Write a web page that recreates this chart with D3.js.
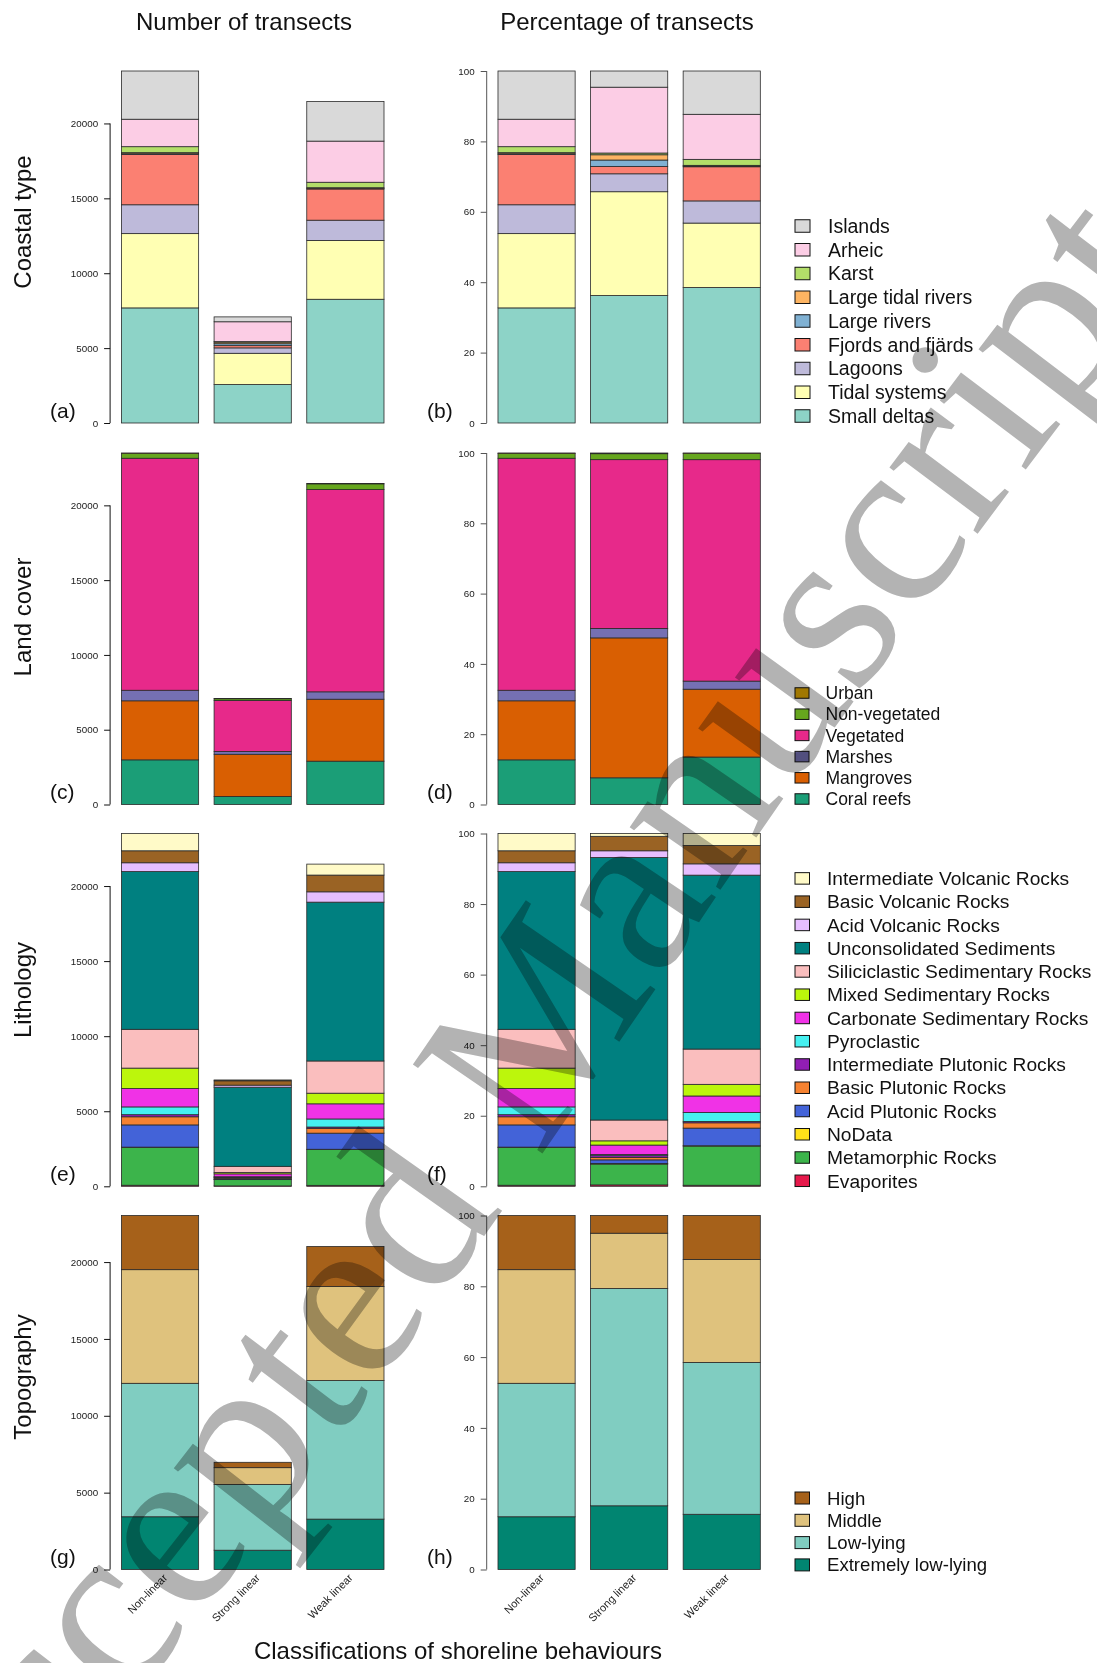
<!DOCTYPE html>
<html>
<head>
<meta charset="utf-8">
<script src="https://cdn.jsdelivr.net/npm/d3@7"></script>
<style>
  body { margin: 0; background: #fff; }
  svg { display: block; font-family: "Liberation Sans", Arial, Helvetica, sans-serif; }
</style>
</head>
<body>
<svg id="fig" width="1097" height="1663"></svg>
<script>
// ---- categories on the x axis ----
const behaviours = ["Non-linear", "Strong linear", "Weak linear"];

// ---- coastal type (stacked bottom to top) ----
const coastalTypes = ["Small deltas", "Tidal systems", "Lagoons", "Fjords and fjärds", "Large rivers",
  "Large tidal rivers", "Karst", "Arheic", "Islands"];
const coastalColors = ["#8dd3c7", "#ffffb3", "#bebada", "#fb8072", "#80b1d3", "#fdb462", "#b3de69", "#fccde5", "#d9d9d9"];
const coastalCounts = [
  [7685, 2565, 8262],
  [4959, 2090, 3927],
  [1927, 361, 1352],
  [3361, 149, 2082],
  [47, 128, 43],
  [70, 106, 43],
  [400, 35, 365],
  [1833, 1325, 2747],
  [3220, 326, 2640]
];

// ---- land cover ----
const landTypes = ["Coral reefs", "Mangroves", "Marshes", "Vegetated", "Non-vegetated", "Urban"];
const landColors = ["#1b9e77", "#d95f02", "#7570b3", "#e7298a", "#66a61e", "#e6ab02"];
const landCounts = [
  [2985, 538, 2897],
  [3948, 2820, 4142],
  [705, 191, 494],
  [15510, 3401, 13520],
  [329, 120, 386],
  [23, 14, 21]
];

// ---- lithology ----
const lithoTypes = ["Evaporites", "Metamorphic Rocks", "NoData", "Acid Plutonic Rocks", "Basic Plutonic Rocks",
  "Intermediate Plutonic Rocks", "Pyroclastic", "Carbonate Sedimentary Rocks", "Mixed Sedimentary Rocks",
  "Siliciclastic Sedimentary Rocks", "Unconsolidated Sediments", "Acid Volcanic Rocks", "Basic Volcanic Rocks",
  "Intermediate Volcanic Rocks"];
const lithoColors = ["#e6194b", "#3cb44b", "#ffe119", "#4363d8", "#f58231", "#911eb4", "#46f0f0", "#f032e6",
  "#bcf60c", "#fabebe", "#008080", "#e6beff", "#9a6324", "#fffac8"];
const lithoCounts = [
  [71, 28, 64],
  [2515, 418, 2382],
  [24, 14, 21],
  [1480, 71, 1073],
  [540, 50, 322],
  [141, 35, 86],
  [517, 21, 537],
  [1222, 191, 1009],
  [1363, 85, 708],
  [2585, 418, 2146],
  [10504, 5271, 10580],
  [588, 135, 687],
  [799, 290, 1116],
  [1151, 57, 730]
];

// ---- topography ----
const topoTypes = ["Extremely low-lying", "Low-lying", "Middle", "High"];
const topoColors = ["#018571", "#80cdc1", "#dfc27d", "#a6611a"];
const topoCounts = [
  [3431, 1255, 3278],
  [8682, 4282, 9015],
  [7393, 1088, 6115],
  [3524, 349, 2606]
];

// ---- axis tick values ----
const countTicks = [0, 5000, 10000, 15000, 20000];
const pctTicks = [0, 20, 40, 60, 80, 100];

// ---- layout ----
const rows = [
  { label: "Coastal type", labelY: 222, top: 71, bottom: 423, tags: ["(a)", "(b)"],
    types: coastalTypes, colors: coastalColors, counts: coastalCounts,
    legend: { y0: 226, step: 23.75, font: 19.5, sw: 15, sh: 12.5, tx: 828 } },
  { label: "Land cover", labelY: 617, top: 453, bottom: 804.5, tags: ["(c)", "(d)"],
    types: landTypes, colors: landColors, counts: landCounts,
    legend: { y0: 693, step: 21.2, font: 17.5, sw: 14, sh: 10.5, tx: 825.5 } },
  { label: "Lithology", labelY: 990, top: 833.5, bottom: 1186.3, tags: ["(e)", "(f)"],
    types: lithoTypes, colors: lithoColors, counts: lithoCounts,
    legend: { y0: 878.4, step: 23.26, font: 19.2, sw: 14.5, sh: 11.5, tx: 827 } },
  { label: "Topography", labelY: 1377, top: 1215.5, bottom: 1569.5, tags: ["(g)", "(h)"],
    types: topoTypes, colors: topoColors, counts: topoCounts,
    legend: { y0: 1498, step: 22.3, font: 18.6, sw: 14.5, sh: 12, tx: 827 } }
];
const leftRange = [110.9, 394.5];
const rightRange = [487.5, 770.8];
const swatchX = 795;

const svg = d3.select("#fig");
svg.append("rect").attr("width", 1097).attr("height", 1663).attr("fill", "#fff");

function band(range) {
  return d3.scaleBand().domain(behaviours).range(range).paddingInner(1 / 6).paddingOuter(0.1133);
}

function drawAxis(g, y, ticks, fmt, x0, strokeCol) {
  const ax = g.append("g").attr("transform", `translate(${x0},0)`)
    .call(d3.axisLeft(y).tickValues(ticks).tickSize(6).tickPadding(6).tickFormat(fmt));
  ax.select(".domain").remove();
  ax.selectAll(".tick line").attr("stroke", strokeCol);
  ax.selectAll(".tick text").attr("fill", "#1a1a1a").style("font-size", "9.8px")
    .style("font-family", "'Liberation Sans', Arial, sans-serif");
  ax.append("line").attr("x1", 0).attr("x2", 0)
    .attr("y1", y(ticks[0])).attr("y2", y(ticks[ticks.length - 1]))
    .attr("stroke", strokeCol).attr("stroke-width", 1);
}

function drawBars(g, x, y, series, colors) {
  const layer = g.append("g").selectAll("g").data(series).join("g")
    .attr("fill", (d, i) => colors[i]);
  layer.selectAll("rect").data(d => d).join("rect")
    .attr("x", d => x(d.data.behaviour))
    .attr("width", x.bandwidth())
    .attr("y", d => y(d[1]))
    .attr("height", d => Math.max(0, y(d[0]) - y(d[1])))
    .attr("stroke", "#2a2a2a").attr("stroke-width", 0.8);
}

rows.forEach((row, r) => {
  const table = behaviours.map((b, j) => {
    const o = { behaviour: b };
    row.types.forEach((t, i) => { o[t] = row.counts[i][j]; });
    return o;
  });
  const totals = table.map(o => d3.sum(row.types, t => o[t]));

  // counts panel
  const xL = band(leftRange);
  const yL = d3.scaleLinear().domain([0, d3.max(totals)]).range([row.bottom, row.top]);
  const gL = svg.append("g");
  drawBars(gL, xL, yL, d3.stack().keys(row.types)(table), row.colors);
  drawAxis(gL, yL, countTicks, d3.format("d"), leftRange[0] - 0.8, "#111");

  // percentage panel
  const xR = band(rightRange);
  const yR = d3.scaleLinear().domain([0, 1]).range([row.bottom, row.top]);
  const gR = svg.append("g");
  drawBars(gR, xR, yR, d3.stack().keys(row.types).offset(d3.stackOffsetExpand)(table), row.colors);
  drawAxis(gR, yR, pctTicks.map(v => v / 100), d => Math.round(d * 100), rightRange[0] - 0.8, "#555");

  // panel tags
  svg.append("text").attr("x", 50).attr("y", row.bottom - 5.5).attr("font-size", 21).attr("fill", "#111").text(row.tags[0]);
  svg.append("text").attr("x", 427).attr("y", row.bottom - 5.5).attr("font-size", 21).attr("fill", "#111").text(row.tags[1]);

  // row label
  svg.append("text").attr("transform", `translate(31,${row.labelY}) rotate(-90)`)
    .attr("text-anchor", "middle").attr("font-size", 24).attr("fill", "#111").text(row.label);

  // legend (top entry is the last stacked category)
  const L = row.legend;
  const items = row.types.map((t, i) => ({ t, c: row.colors[i] })).reverse();
  const lg = svg.append("g").selectAll("g").data(items).join("g")
    .attr("transform", (d, i) => `translate(0,${L.y0 + i * L.step})`);
  lg.append("rect").attr("x", swatchX).attr("y", -L.sh / 2).attr("width", L.sw).attr("height", L.sh)
    .attr("fill", d => d.c).attr("stroke", "#111").attr("stroke-width", 1);
  lg.append("text").attr("x", L.tx).attr("y", 0).attr("dy", "0.35em")
    .attr("font-size", L.font).attr("fill", "#111").text(d => d.t);

  // category labels under the bottom row
  if (r === rows.length - 1) {
    [xL, xR].forEach(x => {
      svg.append("g").selectAll("text").data(behaviours).join("text")
        .attr("transform", d => `translate(${x(d) + x.bandwidth() / 2 + 8},${row.bottom + 9}) rotate(-45)`)
        .attr("text-anchor", "end").attr("font-size", 11).attr("fill", "#222").text(d => d);
    });
  }
});

// column titles and shared x title
svg.append("text").attr("x", 244).attr("y", 29.5).attr("text-anchor", "middle")
  .attr("font-size", 24).attr("fill", "#111").text("Number of transects");
svg.append("text").attr("x", 627).attr("y", 29.5).attr("text-anchor", "middle")
  .attr("font-size", 24).attr("fill", "#111").text("Percentage of transects");
svg.append("text").attr("x", 458).attr("y", 1659).attr("text-anchor", "middle")
  .attr("font-size", 24).attr("fill", "#111").text("Classifications of shoreline behaviours");

// curved overlay lettering: glyph-centre track, shifted down-right onto the baseline
const wmCentres = [[-89, 1896], [118, 1627], [340, 1340], [545, 1050], [730, 777], [940, 490], [1160, 200]];
const wmShift = [45, 34];
svg.append("defs").append("path").attr("id", "wmPath")
  .attr("d", d3.line().curve(d3.curveCatmullRom)(wmCentres.map(([x, y]) => [x + wmShift[0], y + wmShift[1]])));
svg.append("text")
  .style("mix-blend-mode", "multiply")
  .attr("font-family", "'Liberation Serif', 'Times New Roman', serif")
  .attr("font-size", 240).attr("fill", "#b3b3b3")
  .append("textPath").attr("href", "#wmPath").attr("startOffset", 0)
  .text("Accepted Manuscript");
</script>
</body>
</html>
